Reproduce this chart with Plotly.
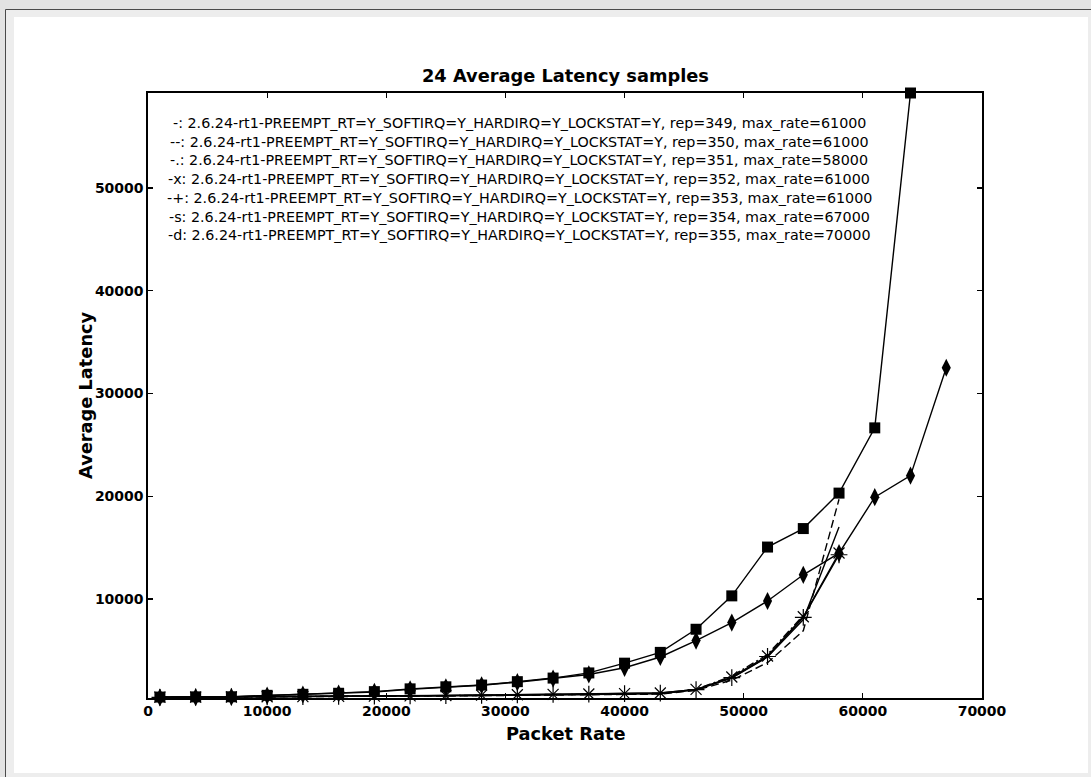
import plotly.graph_objects as go

# ---------------- data ----------------
rates = [1000, 4000, 7000, 10000, 13000, 16000, 19000, 22000, 25000, 28000,
         31000, 34000, 37000, 40000, 43000, 46000, 49000, 52000, 55000, 58000,
         61000, 64000, 67000]

lat_349 = [430, 440, 450, 470, 490, 510, 530, 560, 580, 600, 630, 650, 670, 700,
           760, 1150, 2300, 4350, 8000, 17000]
lat_350 = [420, 430, 440, 460, 480, 500, 520, 540, 560, 590, 610, 630, 650, 680,
           740, 1100, 2100, 3800, 6900, 19700]
lat_351 = [440, 450, 460, 480, 500, 520, 540, 570, 590, 610, 640, 660, 690, 720,
           780, 1200, 2500, 4600, 8400]
lat_352 = [440, 450, 460, 480, 500, 520, 540, 570, 600, 640, 680, 720, 750, 790,
           850, 1200, 2400, 4450, 8270, 14470]
lat_353 = [430, 450, 460, 470, 490, 510, 540, 560, 590, 630, 670, 710, 740, 780,
           840, 1180, 2350, 4400, 8200, 14300]
lat_354 = [450, 470, 480, 620, 720, 820, 980, 1250, 1450, 1620, 1950, 2300, 2800,
           3750, 4800, 7050, 10300, 15050, 16850, 20300, 26650, 59240]
lat_355 = [420, 440, 460, 600, 700, 800, 950, 1200, 1400, 1600, 1900, 2250, 2650,
           3300, 4350, 5950, 7700, 9800, 12350, 14450, 19900, 22000, 32500]

labels = [
    "-: 2.6.24-rt1-PREEMPT_RT=Y_SOFTIRQ=Y_HARDIRQ=Y_LOCKSTAT=Y, rep=349, max_rate=61000",
    "--: 2.6.24-rt1-PREEMPT_RT=Y_SOFTIRQ=Y_HARDIRQ=Y_LOCKSTAT=Y, rep=350, max_rate=61000",
    "-.: 2.6.24-rt1-PREEMPT_RT=Y_SOFTIRQ=Y_HARDIRQ=Y_LOCKSTAT=Y, rep=351, max_rate=58000",
    "-x: 2.6.24-rt1-PREEMPT_RT=Y_SOFTIRQ=Y_HARDIRQ=Y_LOCKSTAT=Y, rep=352, max_rate=61000",
    "-+: 2.6.24-rt1-PREEMPT_RT=Y_SOFTIRQ=Y_HARDIRQ=Y_LOCKSTAT=Y, rep=353, max_rate=61000",
    "-s: 2.6.24-rt1-PREEMPT_RT=Y_SOFTIRQ=Y_HARDIRQ=Y_LOCKSTAT=Y, rep=354, max_rate=67000",
    "-d: 2.6.24-rt1-PREEMPT_RT=Y_SOFTIRQ=Y_HARDIRQ=Y_LOCKSTAT=Y, rep=355, max_rate=70000",
]
title_text = "24 Average Latency samples"
x_title = "Packet Rate"
y_title = "Average Latency"
x_ticks = [0, 10000, 20000, 30000, 40000, 50000, 60000, 70000]
y_ticks = [10000, 20000, 30000, 40000, 50000]

# ---------------- layout geometry (pixels) ----------------
W, H = 1091, 777
L, R, T, B = 148, 982, 93, 698
PW, PH = R - L, B - T


def px(x):
    return (x - L) / PW


def py(y):
    return (B - y) / PH


FONT = "DejaVu Sans"
LW = 1.4

series = [
    (lat_349, dict(mode="lines", line=dict(color="black", width=LW))),
    (lat_350, dict(mode="lines", line=dict(color="black", width=LW, dash="8px,4px"))),
    (lat_351, dict(mode="lines", line=dict(color="black", width=LW, dash="8px,3px,2px,3px"))),
    (lat_352, dict(mode="lines+markers", line=dict(color="black", width=LW),
                   marker=dict(symbol="x-thin-open", size=11, color="black",
                               line=dict(color="black", width=1.2)))),
    (lat_353, dict(mode="lines+markers", line=dict(color="black", width=LW),
                   marker=dict(symbol="cross-thin-open", size=12, color="black",
                               line=dict(color="black", width=1.2)))),
    (lat_354, dict(mode="lines+markers", line=dict(color="black", width=LW),
                   marker=dict(symbol="square", size=11, color="black",
                               line=dict(width=0)))),
    (lat_355, dict(mode="lines+markers", line=dict(color="black", width=LW),
                   marker=dict(symbol="diamond-tall", size=13, color="black",
                               line=dict(width=0)))),
]

fig = go.Figure()
for vals, style in series:
    fig.add_trace(go.Scatter(x=rates[:len(vals)], y=vals, showlegend=False,
                             cliponaxis=False, hoverinfo="skip", **style))

axis_common = dict(
    showgrid=False, zeroline=False, showline=True, linecolor="black",
    linewidth=1.6, mirror="ticks", ticks="inside", ticklen=5, tickwidth=1.2,
    tickcolor="black",
    tickfont=dict(family=FONT, size=14, color="black", weight="bold"),
)

fig.update_xaxes(range=[0, 70000], tickvals=x_ticks,
                 ticktext=[str(v) for v in x_ticks], **axis_common)
fig.update_yaxes(range=[360, 59240], tickvals=y_ticks,
                 ticktext=[str(v) for v in y_ticks], **axis_common)

annotations = []
# legend-like text block
for i, lab in enumerate(labels):
    annotations.append(dict(
        text=lab, x=px(519), y=py(123 + 18.7 * i), xref="paper", yref="paper",
        xanchor="center", yanchor="middle", showarrow=False,
        font=dict(family=FONT, size=14.3, color="black")))
# title and axis titles
annotations.append(dict(text=title_text, x=px(565), y=py(76), xref="paper", yref="paper",
                        xanchor="center", yanchor="middle", showarrow=False,
                        font=dict(family=FONT, size=17.8, color="black", weight="bold")))
annotations.append(dict(text=x_title, x=px(565), y=py(733), xref="paper", yref="paper",
                        xanchor="center", yanchor="middle", showarrow=False,
                        font=dict(family=FONT, size=17.8, color="black", weight="bold")))
annotations.append(dict(text=y_title, x=px(85), y=py(395), xref="paper", yref="paper",
                        xanchor="center", yanchor="middle", showarrow=False, textangle=-90,
                        font=dict(family=FONT, size=17.8, color="black", weight="bold")))

shapes = [
    dict(type="rect", xref="paper", yref="paper", layer="below",
         x0=px(5.5), x1=px(1100), y0=py(9.5), y1=py(790),
         fillcolor="#ededed", line=dict(color="#4a4a4a", width=1)),
    dict(type="rect", xref="paper", yref="paper", layer="below",
         x0=px(14), x1=px(1088), y0=py(17), y1=py(773),
         fillcolor="white", line=dict(width=0)),
]

fig.update_layout(
    width=W, height=H,
    margin=dict(l=L, r=W - R, t=T, b=H - B, pad=0),
    paper_bgcolor="#e3e3e3", plot_bgcolor="white",
    annotations=annotations, shapes=shapes,
    font=dict(family=FONT, color="black"),
)

fig.write_html("out.html",
               config={"displayModeBar": False, "staticPlot": True},
               post_script="document.body.style.margin='0';"
                           "document.body.style.overflow='hidden';")
